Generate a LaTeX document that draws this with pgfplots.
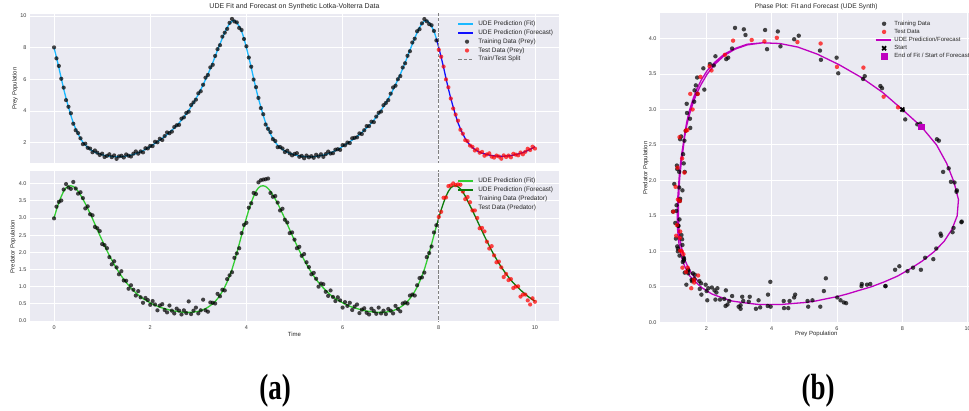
\documentclass[border=0pt]{standalone}
\usepackage{fontspec}
\setmainfont{Liberation Sans}
\newfontfamily\capfont{Liberation Serif}
\usepackage{graphicx}
\usepackage{pgfplots}
\usepackage{pgfplotstable}
\pgfplotsset{compat=1.18}
\definecolor{bgc}{HTML}{EAEAF2}
\definecolor{txt}{HTML}{262626}
\definecolor{tkc}{HTML}{3A3A3A}
\definecolor{fitc}{HTML}{1AB8FF}
\definecolor{fcc}{HTML}{1010FF}
\definecolor{gfit}{HTML}{32CD32}
\definecolor{gfc}{HTML}{0A7A0A}
\definecolor{magc}{HTML}{BF00BF}
\definecolor{splitc}{HTML}{808080}

\pgfplotstableread{
t prey pred mprey mpred
0.00 8.02 2.99 8.00 3.00
0.05 7.33 3.33 7.40 3.24
0.10 6.85 3.47 6.75 3.45
0.15 6.04 3.51 6.07 3.63
0.20 5.48 3.83 5.40 3.78
0.25 4.69 3.99 4.80 3.88
0.30 4.27 3.89 4.25 3.93
0.35 3.86 3.85 3.73 3.94
0.40 3.20 4.05 3.25 3.92
0.45 2.79 3.86 2.88 3.86
0.50 2.61 3.71 2.55 3.78
0.55 2.28 3.75 2.27 3.67
0.60 1.91 3.58 2.03 3.55
0.65 1.94 3.28 1.85 3.42
0.70 1.68 3.34 1.70 3.28
0.75 1.63 3.11 1.58 3.13
0.80 1.40 3.08 1.48 2.98
0.85 1.51 2.74 1.40 2.82
0.90 1.37 2.70 1.34 2.66
0.95 1.23 2.62 1.29 2.50
1.00 1.31 2.24 1.24 2.35
1.05 1.10 2.21 1.20 2.20
1.10 1.17 2.12 1.17 2.05
1.15 1.27 1.86 1.15 1.91
1.20 1.09 1.65 1.13 1.78
1.25 1.20 1.74 1.12 1.65
1.30 0.98 1.56 1.11 1.53
1.35 1.14 1.36 1.11 1.42
1.40 1.18 1.45 1.12 1.31
1.45 1.07 1.18 1.14 1.21
1.50 1.26 1.17 1.16 1.12
1.55 1.18 0.94 1.19 1.04
1.60 1.13 1.04 1.22 0.96
1.65 1.31 0.91 1.26 0.89
1.70 1.45 0.74 1.31 0.82
1.75 1.31 0.87 1.37 0.76
1.80 1.45 0.69 1.43 0.70
1.85 1.39 0.53 1.50 0.65
1.90 1.65 0.67 1.58 0.61
1.95 1.64 0.61 1.67 0.57
2.00 1.80 0.47 1.76 0.53
2.05 1.79 0.58 1.86 0.49
2.10 2.06 0.48 1.96 0.46
2.15 2.03 0.31 2.06 0.43
2.20 2.25 0.45 2.17 0.40
2.25 2.17 0.49 2.28 0.38
2.30 2.42 0.32 2.40 0.36
2.35 2.65 0.25 2.52 0.34
2.40 2.60 0.45 2.65 0.32
2.45 2.70 0.30 2.79 0.30
2.50 2.99 0.22 2.93 0.29
2.55 3.10 0.36 3.09 0.28
2.60 3.13 0.30 3.25 0.27
2.65 3.52 0.19 3.43 0.26
2.70 3.60 0.31 3.62 0.25
2.75 3.88 0.23 3.83 0.25
2.80 3.96 0.57 4.04 0.25
2.85 4.38 0.20 4.27 0.25
2.90 4.55 0.30 4.52 0.26
2.95 4.72 0.39 4.78 0.27
3.00 5.12 0.22 5.05 0.28
3.05 5.25 0.31 5.35 0.30
3.10 5.66 0.62 5.66 0.33
3.15 6.11 0.31 5.99 0.36
3.20 6.28 0.27 6.32 0.40
3.25 6.76 0.54 6.68 0.45
3.30 6.92 0.53 7.05 0.50
3.35 7.48 0.51 7.45 0.57
3.40 7.91 0.79 7.85 0.65
3.45 8.16 0.72 8.23 0.75
3.50 8.70 0.91 8.60 0.86
3.55 8.95 0.89 8.96 0.99
3.60 9.19 1.22 9.28 1.14
3.65 9.57 1.33 9.52 1.31
3.70 9.82 1.42 9.68 1.50
3.75 9.66 1.84 9.72 1.73
3.80 9.60 1.97 9.58 1.98
3.85 9.25 2.12 9.36 2.24
3.90 9.12 2.56 9.05 2.50
3.95 8.55 2.80 8.58 2.76
4.00 8.09 2.86 8.00 3.00
4.05 7.38 3.30 7.40 3.24
4.10 6.80 3.43 6.75 3.45
4.15 5.99 3.73 6.07 3.63
4.20 5.51 3.70 5.40 3.78
4.25 4.83 4.04 4.80 3.88
4.30 4.19 4.10 4.25 3.93
4.35 3.80 4.12 3.73 3.94
4.40 3.15 4.13 3.25 3.92
4.45 2.88 4.15 2.88 3.86
4.50 2.67 3.73 2.55 3.78
4.55 2.23 3.62 2.27 3.67
4.60 2.11 3.64 2.03 3.55
4.65 1.72 3.45 1.85 3.42
4.70 1.73 3.22 1.70 3.28
4.75 1.64 3.27 1.58 3.13
4.80 1.41 2.95 1.48 2.98
4.85 1.50 2.87 1.40 2.82
4.90 1.33 2.56 1.34 2.66
4.95 1.20 2.58 1.29 2.50
5.00 1.29 2.37 1.24 2.35
5.05 1.34 2.12 1.20 2.20
5.10 1.11 2.16 1.17 2.05
5.15 1.17 1.90 1.15 1.91
5.20 1.02 1.95 1.13 1.78
5.25 1.19 1.71 1.12 1.65
5.30 1.08 1.57 1.11 1.53
5.35 1.15 1.36 1.11 1.42
5.40 1.05 1.40 1.12 1.31
5.45 1.24 1.23 1.14 1.21
5.50 1.13 1.00 1.16 1.12
5.55 1.27 1.09 1.19 1.04
5.60 1.11 1.07 1.22 0.96
5.65 1.28 0.85 1.26 0.89
5.70 1.44 0.73 1.31 0.82
5.75 1.32 0.89 1.37 0.76
5.80 1.34 0.70 1.43 0.70
5.85 1.56 0.58 1.50 0.65
5.90 1.59 0.69 1.58 0.61
5.95 1.55 0.60 1.67 0.57
6.00 1.85 0.39 1.76 0.53
6.05 1.84 0.55 1.86 0.49
6.10 2.01 0.44 1.96 0.46
6.15 1.98 0.53 2.06 0.43
6.20 2.28 0.32 2.17 0.40
6.25 2.31 0.42 2.28 0.38
6.30 2.34 0.48 2.40 0.36
6.35 2.59 0.23 2.52 0.34
6.40 2.55 0.33 2.65 0.32
6.45 2.79 0.37 2.79 0.30
6.50 3.05 0.24 2.93 0.29
6.55 3.05 0.19 3.09 0.28
6.60 3.33 0.36 3.25 0.27
6.65 3.30 0.29 3.43 0.26
6.70 3.65 0.21 3.62 0.25
6.75 3.89 0.39 3.83 0.25
6.80 3.97 0.22 4.04 0.25
6.85 4.37 0.30 4.27 0.25
6.90 4.51 0.20 4.52 0.26
6.95 4.69 0.35 4.78 0.27
7.00 5.10 0.30 5.05 0.28
7.05 5.49 0.22 5.35 0.30
7.10 5.60 0.44 5.66 0.33
7.15 6.01 0.35 5.99 0.36
7.20 6.21 0.28 6.32 0.40
7.25 6.75 0.51 6.68 0.45
7.30 7.02 0.54 7.05 0.50
7.35 7.49 0.51 7.45 0.57
7.40 7.78 0.74 7.85 0.65
7.45 8.33 0.77 8.23 0.75
7.50 8.57 0.74 8.60 0.86
7.55 9.04 1.04 8.96 0.99
7.60 9.17 1.25 9.28 1.14
7.65 9.54 1.27 9.52 1.31
7.70 9.81 1.41 9.68 1.50
7.75 9.67 1.86 9.72 1.73
7.80 9.49 1.98 9.58 1.98
7.85 9.42 2.17 9.36 2.24
7.90 9.06 2.58 9.05 2.50
7.95 8.46 2.79 8.58 2.76
8.00 7.87 3.03 8.00 3.00
8.05 7.43 3.18 7.40 3.24
8.10 6.81 3.59 6.75 3.45
8.15 6.00 3.60 6.07 3.63
8.20 5.50 3.93 5.40 3.78
8.25 4.79 3.95 4.80 3.88
8.30 4.16 4.01 4.25 3.93
8.35 3.78 3.96 3.73 3.94
8.40 3.39 3.98 3.25 3.91
8.45 2.82 3.97 2.88 3.85
8.50 2.57 3.77 2.55 3.76
8.55 2.16 3.55 2.27 3.64
8.60 2.10 3.61 2.03 3.50
8.65 1.82 3.46 1.85 3.36
8.70 1.74 3.22 1.70 3.22
8.75 1.51 3.22 1.58 3.07
8.80 1.58 3.00 1.48 2.92
8.85 1.37 2.70 1.40 2.77
8.90 1.42 2.71 1.34 2.62
8.95 1.18 2.61 1.30 2.47
9.00 1.26 2.31 1.26 2.33
9.05 1.33 2.11 1.22 2.19
9.10 1.12 2.18 1.19 2.05
9.15 1.06 1.91 1.17 1.92
9.20 1.19 1.71 1.16 1.80
9.25 1.13 1.73 1.15 1.68
9.30 0.99 1.56 1.15 1.57
9.35 1.20 1.28 1.15 1.47
9.40 1.10 1.37 1.16 1.37
9.45 1.19 1.19 1.17 1.28
9.50 1.08 1.22 1.19 1.19
9.55 1.30 0.96 1.22 1.11
9.60 1.25 1.00 1.25 1.04
9.65 1.20 1.01 1.29 0.97
9.70 1.38 0.71 1.33 0.90
9.75 1.27 0.77 1.38 0.84
9.80 1.43 0.77 1.44 0.78
9.85 1.62 0.60 1.51 0.72
9.90 1.54 0.48 1.58 0.67
9.95 1.75 0.66 1.66 0.62
10.00 1.63 0.56 1.75 0.58
}\lv

\pgfplotsset{
  sea/.style={
    scale only axis,
    axis background/.style={fill=bgc},
    grid=major,
    major grid style={draw=white, line width=0.9pt},
    axis line style={draw=none},
    major tick length=0pt,
    tick style={draw=none},
    tick label style={font=\fontsize{5.5}{6}\selectfont, text=tkc},
    label style={font=\fontsize{6}{7}\selectfont, text=txt},
    title style={font=\fontsize{7}{8}\selectfont, text=txt, yshift=-6pt},
    /pgf/number format/assume math mode=true,
    legend cell align=left,
    enlargelimits=false,
  },
  ldot/.style={only marks, mark=*, mark size=2.1pt, draw opacity=0,
    mark options={draw=none, draw opacity=0, fill=black, fill opacity=0.72}},
  rdot/.style={only marks, mark=*, mark size=2.1pt, draw opacity=0,
    mark options={draw=none, draw opacity=0, fill=red, fill opacity=0.72}},
  lline/.style={legend image code/.code={\draw[##1,line width=1.8pt] (0pt,0pt) -- (15pt,0pt);}},
  dline/.style={legend image code/.code={\draw[##1] (0pt,0pt) -- (15pt,0pt);}},
  noimg/.style={legend image code/.code={\path (0pt,0pt) (15pt,0pt);}},
}

\begin{document}
\begin{tikzpicture}
\path[use as bounding box] (0pt,0pt) rectangle (969pt,410pt);

% ---------- top: prey ----------
\begin{axis}[sea,
  at={(30pt,396pt)}, anchor=north west,
  width=529pt, height=149pt,
  xmin=-0.5, xmax=10.5, ymin=0.72, ymax=10.13,
  xtick={0,2,4,6,8,10}, xticklabels={},
  ytick={2,4,6,8,10},
  ylabel={Prey Population},
  ylabel style={at={(axis description cs:-0.0284,0.5)}, anchor=center},
  title={UDE Fit and Forecast on Synthetic Lotka-Volterra Data},
  title style={at={(axis description cs:0.5,1.047)}, anchor=center},
  legend style={draw=none, fill=none, at={(axis description cs:0.806,0.975)}, anchor=north west,
    font=\fontsize{6.4}{7}\selectfont, text=txt, inner sep=1pt, row sep=-1.3pt,
    /tikz/every odd column/.append style={column sep=2pt}},
]
\addplot[fitc, line width=1.3pt, skip coords between index={160}{201}, lline]
  table[x=t, y=mprey] {\lv};
\addlegendentry{UDE Prediction (Fit)}
\addplot[fcc, line width=1.3pt, skip coords between index={0}{159}, lline]
  table[x=t, y=mprey] {\lv};
\addlegendentry{UDE Prediction (Forecast)}
\addplot[ldot, skip coords between index={160}{201}] table[x=t, y=prey] {\lv};
\addlegendentry{Training Data (Prey)}
\addplot[rdot, skip coords between index={0}{160}] table[x=t, y=prey] {\lv};
\addlegendentry{Test Data (Prey)}
\addplot[splitc, line width=0.9pt, dash pattern=on 3.5pt off 1.6pt, dline]
  coordinates {(8,0) (8,11)};
\addlegendentry{Train/Test Split}
\end{axis}

% ---------- bottom: predator ----------
\begin{axis}[sea,
  at={(30pt,239pt)}, anchor=north west,
  width=529pt, height=151pt,
  xmin=-0.5, xmax=10.5, ymin=-0.03, ymax=4.37,
  xtick={0,2,4,6,8,10},
  ytick={0,0.5,1,1.5,2,2.5,3,3.5,4},
  yticklabel style={/pgf/number format/fixed, /pgf/number format/fixed zerofill, /pgf/number format/precision=1},
  xlabel={Time},
  xlabel style={at={(axis description cs:0.5,-0.08)}, anchor=center},
  ylabel={Predator Population},
  ylabel style={at={(axis description cs:-0.032,0.5)}, anchor=center},
  legend style={draw=none, fill=none, at={(axis description cs:0.806,0.975)}, anchor=north west,
    font=\fontsize{6.4}{7}\selectfont, text=txt, inner sep=1pt, row sep=-1.3pt,
    /tikz/every odd column/.append style={column sep=2pt}},
]
\addplot[gfit, line width=1.3pt, skip coords between index={160}{201}, lline]
  table[x=t, y=mpred] {\lv};
\addlegendentry{UDE Prediction (Fit)}
\addplot[gfc, line width=1.3pt, skip coords between index={0}{159}, lline]
  table[x=t, y=mpred] {\lv};
\addlegendentry{UDE Prediction (Forecast)}
\addplot[ldot, skip coords between index={160}{201}, noimg] table[x=t, y=pred] {\lv};
\addlegendentry{Training Data (Predator)}
\addplot[rdot, skip coords between index={0}{160}, noimg] table[x=t, y=pred] {\lv};
\addlegendentry{Test Data (Predator)}
\addplot[splitc, line width=0.9pt, dash pattern=on 3.5pt off 1.6pt, forget plot]
  coordinates {(8,-1) (8,5)};
\end{axis}

% ---------- right: phase plot ----------
\begin{axis}[sea,
  at={(660pt,397pt)}, anchor=north west,
  width=312.5pt, height=310pt,
  xmin=0.583, xmax=10.15, ymin=-0.01, ymax=4.36,
  xtick={2,4,6,8,10},
  ytick={0,0.5,1,1.5,2,2.5,3,3.5,4},
  yticklabel style={/pgf/number format/fixed, /pgf/number format/fixed zerofill, /pgf/number format/precision=1},
  xlabel={Prey Population},
  xlabel style={at={(axis description cs:0.5,-0.036)}, anchor=center},
  ylabel={Predator Population},
  ylabel style={at={(axis description cs:-0.045,0.5)}, anchor=center},
  title={Phase Plot: Fit and Forecast (UDE Synth)},
  title style={at={(axis description cs:0.5,1.021)}, anchor=center, font=\fontsize{6.6}{7.5}\selectfont},
  legend style={draw=none, fill=none, at={(axis description cs:0.683,0.985)}, anchor=north west,
    font=\fontsize{6}{6.5}\selectfont, text=txt, inner sep=1pt, row sep=-1.6pt,
    /tikz/every odd column/.append style={column sep=1pt}},
]
\addplot[ldot, mark size=2.2pt, skip coords between index={160}{201}] table[x=prey, y=pred] {\lv};
\addlegendentry{Training Data}
\addplot[rdot, mark size=2.2pt, skip coords between index={0}{160}] table[x=prey, y=pred] {\lv};
\addlegendentry{Test Data}
\addplot[magc, line width=1.3pt, lline] table[x=mprey, y=mpred] {\lv};
\addlegendentry{UDE Prediction/Forecast}
\addplot[only marks, mark=x, mark size=2.8pt, black, line width=1.7pt] coordinates {(8.00,3.00)};
\addlegendentry{Start}
\addplot[only marks, mark=square*, mark size=2.7pt, magc] coordinates {(8.58,2.76)};
\addlegendentry{End of Fit / Start of Forecast}
\end{axis}

\node[font=\capfont\bfseries\fontsize{27}{30}\selectfont] at (275pt,19pt) {\scalebox{1}[1.35]{(a)}};
\node[font=\capfont\bfseries\fontsize{27}{30}\selectfont] at (818pt,19pt) {\scalebox{1}[1.35]{(b)}};
\end{tikzpicture}
\end{document}
